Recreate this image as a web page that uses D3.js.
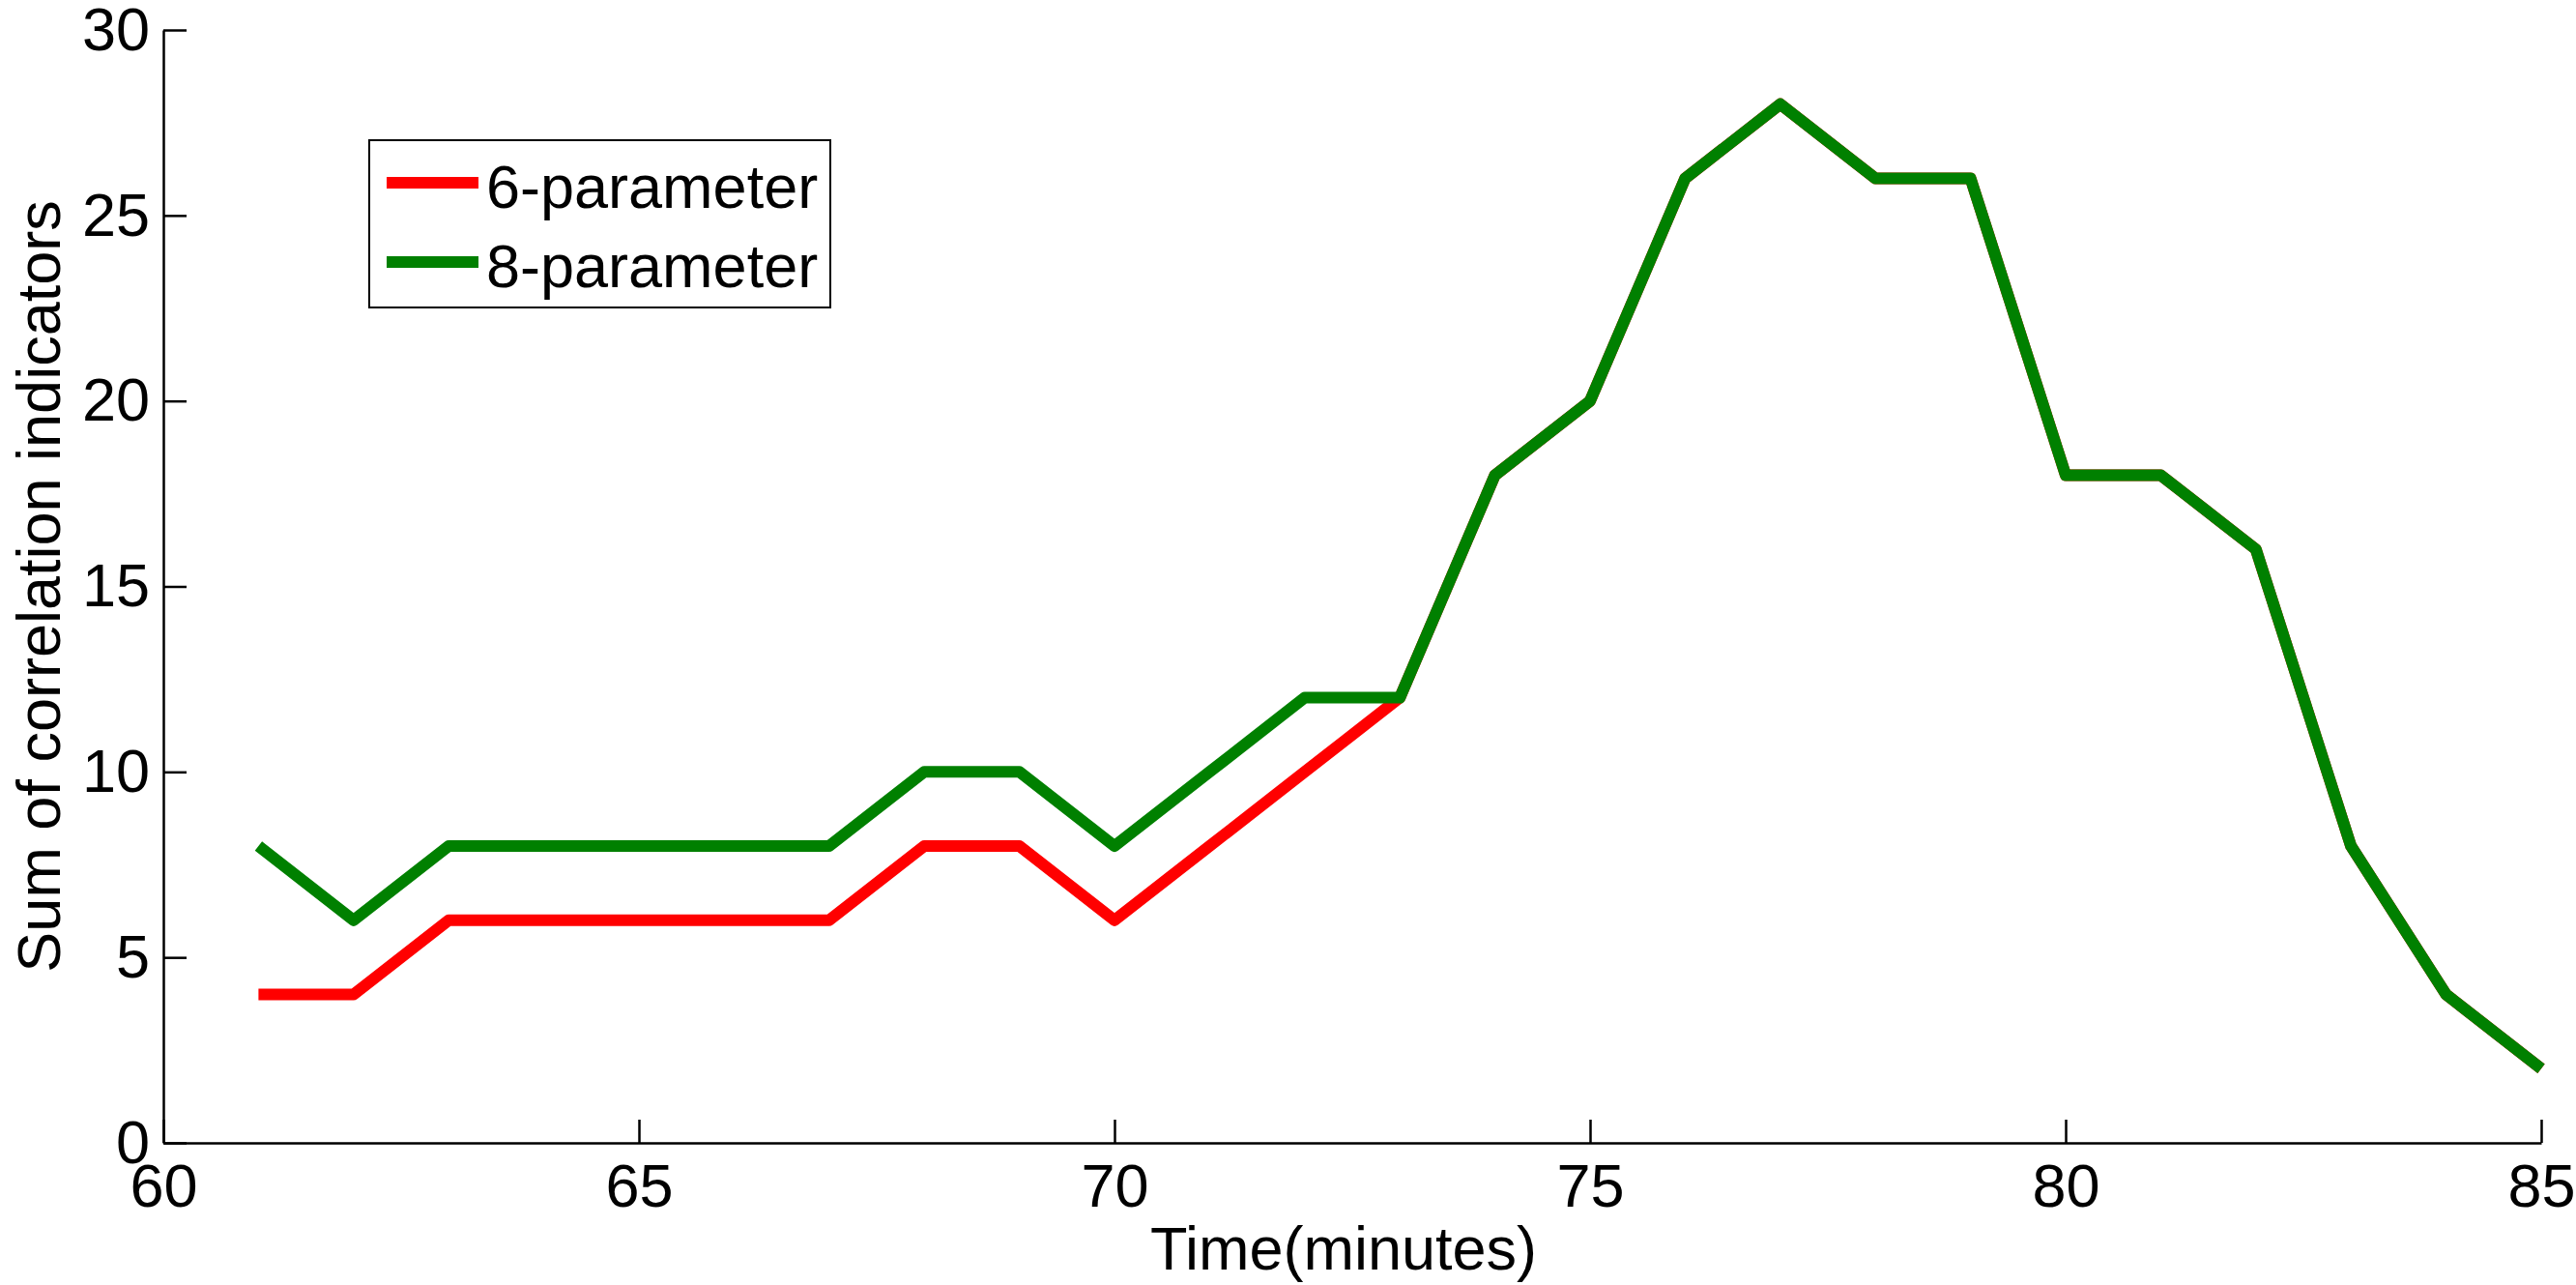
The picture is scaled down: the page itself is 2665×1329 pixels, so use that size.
<!DOCTYPE html>
<html>
<head>
<meta charset="utf-8">
<script src="https://cdn.jsdelivr.net/npm/d3@7"></script>
<style>
  html, body { margin: 0; padding: 0; background: #fff; }
  svg { display: block; }
  text { font-family: "Liberation Sans", Arial, Helvetica, sans-serif; fill: #000; }
</style>
</head>
<body>
<svg id="chart" width="2665" height="1329"></svg>
<script>
// ---- data ----
const minutes = [61,62,63,64,65,66,67,68,69,70,71,72,73,74,75,76,77,78,79,80,81,82,83,84,85];
const sixParam = [4,4,6,6,6,6,6,8,8,6,8,10,12,18,20,26,28,26,26,18,18,16,8,4,2];
const eightParam = [8,6,8,8,8,8,8,10,10,8,10,12,12,18,20,26,28,26,26,18,18,16,8,4,2];
const seriesNames = ["6-parameter", "8-parameter"];
const seriesColors = ["#ff0000", "#008000"];
const xTicks = [60,65,70,75,80,85];
const yTicks = [0,5,10,15,20,25,30];
const xLabel = "Time(minutes)";
const yLabel = "Sum of correlation indicators";

// ---- layout ----
const svg = d3.select("#chart");
const plotLeft = 169, plotRight = 2629, plotTop = 31, plotBottom = 1182;
const fontSize = 63;

const x = d3.scaleLinear().domain([60, 85]).range([plotLeft, plotRight]);
const y = d3.scaleLinear().domain([0, 30]).range([plotBottom, plotTop]);

// axes
const xAxis = d3.axisBottom(x).tickValues(xTicks).tickSizeInner(-24).tickSizeOuter(0).tickPadding(21).tickFormat(d3.format("d"));
const yAxis = d3.axisLeft(y).tickValues(yTicks).tickSizeInner(-24).tickSizeOuter(0).tickPadding(14).tickFormat(d3.format("d"));

const gx = svg.append("g").attr("transform", `translate(0,${plotBottom})`).call(xAxis);
const gy = svg.append("g").attr("transform", `translate(${plotLeft},0)`).call(yAxis);
[gx, gy].forEach(g => {
  g.select(".domain").attr("stroke", "#000").attr("stroke-width", 2.5);
  g.selectAll(".tick line").attr("stroke", "#000").attr("stroke-width", 2.5);
  g.selectAll(".tick text").attr("font-size", fontSize)
    .attr("font-family", '"Liberation Sans", Arial, Helvetica, sans-serif').attr("fill", "#000");
});

// lines
const line = d3.line().x((d, i) => x(minutes[i])).y(d => y(d));
[sixParam, eightParam].forEach((s, k) => {
  svg.append("path")
    .datum(s)
    .attr("d", line)
    .attr("fill", "none")
    .attr("stroke", seriesColors[k])
    .attr("stroke-width", 12)
    .attr("stroke-linejoin", "round")
    .attr("stroke-linecap", "butt");
});

// axis labels
svg.append("text")
  .attr("x", 1390)
  .attr("y", 1313)
  .attr("text-anchor", "middle")
  .attr("font-size", fontSize)
  .text(xLabel);

svg.append("text")
  .attr("transform", `translate(62,${(plotTop + plotBottom) / 2}) rotate(-90)`)
  .attr("text-anchor", "middle")
  .attr("font-size", fontSize)
  .text(yLabel);

// legend
const lg = svg.append("g");
lg.append("rect")
  .attr("x", 382).attr("y", 145).attr("width", 477).attr("height", 173)
  .attr("fill", "#fff").attr("stroke", "#000").attr("stroke-width", 2);
const legendY = [189, 271];
seriesNames.forEach((name, k) => {
  lg.append("line")
    .attr("x1", 400).attr("x2", 495)
    .attr("y1", legendY[k]).attr("y2", legendY[k])
    .attr("stroke", seriesColors[k]).attr("stroke-width", 12);
  lg.append("text")
    .attr("x", 503).attr("y", legendY[k] + 26)
    .attr("font-size", fontSize)
    .text(name);
});
</script>
</body>
</html>
